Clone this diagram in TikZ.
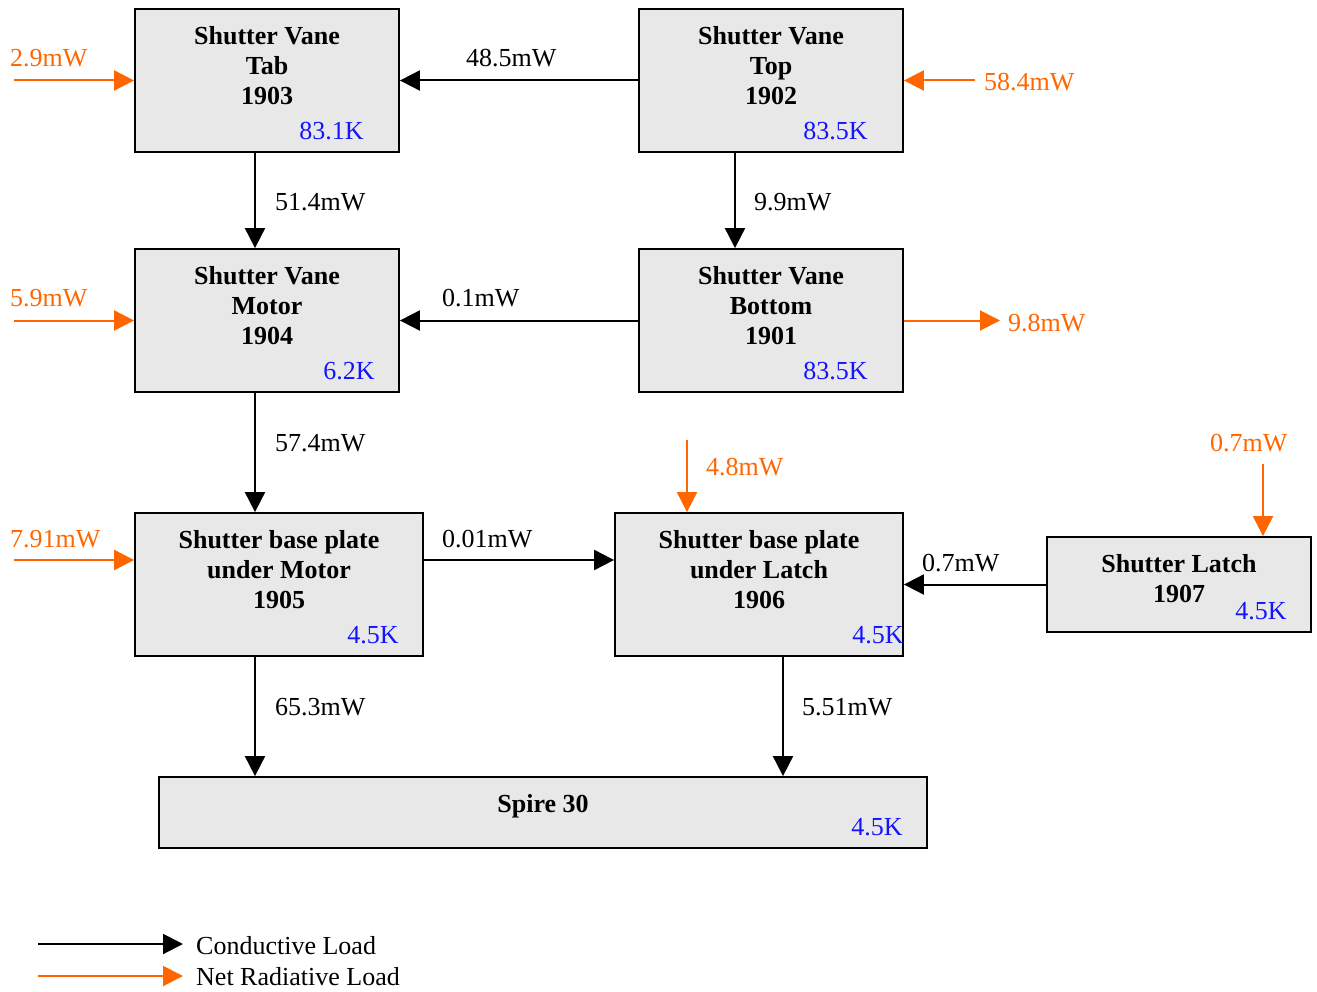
\documentclass[tikz,border=0pt]{standalone}
\usepackage{fontspec}
\setmainfont{Liberation Serif}
\usetikzlibrary{arrows.meta}
\definecolor{radorange}{RGB}{255,102,0}
\definecolor{tempblue}{RGB}{20,20,255}
\definecolor{boxgrey}{RGB}{232,232,232}
\tikzset{
  box/.style={draw=black, line width=1.8pt, fill=boxgrey, rectangle, inner sep=0pt},
  title/.style={anchor=base, inner sep=0pt, font=\fontsize{26}{30}\selectfont\bfseries},
  temp/.style={anchor=base east, inner sep=0pt, text=tempblue, font=\fontsize{26}{30}\selectfont},
  lbl/.style={anchor=base west, inner sep=0pt, font=\fontsize{26}{30}\selectfont},
  olbl/.style={lbl, text=radorange},
  cond/.style={draw=black, line width=2pt, -{Triangle[length=20pt,width=20pt]}},
  rad/.style={draw=radorange, line width=2pt, -{Triangle[length=20pt,width=20pt]}},
}
\newcommand{\ttl}[1]{\begin{tabular}[t]{@{}c@{}}#1\end{tabular}}
\begin{document}
\begin{tikzpicture}[x=1pt,y=-1pt]
\useasboundingbox (0,0) rectangle (1317,992);
% boxes
\node[box, minimum width=264pt, minimum height=143pt] (n1903) at (267,80.5) {};
\node[box, minimum width=264pt, minimum height=143pt] (n1902) at (771,80.5) {};
\node[box, minimum width=264pt, minimum height=143pt] (n1904) at (267,320.5) {};
\node[box, minimum width=264pt, minimum height=143pt] (n1901) at (771,320.5) {};
\node[box, minimum width=288pt, minimum height=143pt] (n1905) at (279,584.5) {};
\node[box, minimum width=288pt, minimum height=143pt] (n1906) at (759,584.5) {};
\node[box, minimum width=264pt, minimum height=95pt] (n1907) at (1179,584.5) {};
\node[box, minimum width=768pt, minimum height=71pt] (spire) at (543,812.5) {};
% titles
\node[title] (t1903) at ([yshift=-36pt]n1903.north) {\ttl{Shutter Vane\\Tab\\1903}};
\node[title] (t1902) at ([yshift=-36pt]n1902.north) {\ttl{Shutter Vane\\Top\\1902}};
\node[title] (t1904) at ([yshift=-36pt]n1904.north) {\ttl{Shutter Vane\\Motor\\1904}};
\node[title] (t1901) at ([yshift=-36pt]n1901.north) {\ttl{Shutter Vane\\Bottom\\1901}};
\node[title] (t1905) at ([yshift=-36pt]n1905.north) {\ttl{Shutter base plate\\under Motor\\1905}};
\node[title] (t1906) at ([yshift=-36pt]n1906.north) {\ttl{Shutter base plate\\under Latch\\1906}};
\node[title] (t1907) at ([yshift=-36pt]n1907.north) {\ttl{Shutter Latch\\1907}};
\node[title] (tspire) at ([yshift=-36pt]spire.north) {\ttl{Spire 30}};
% temperatures
\node[temp] (k1903) at ([xshift=-36pt,yshift=13pt]n1903.south east) {83.1K};
\node[temp] (k1902) at ([xshift=-36pt,yshift=13pt]n1902.south east) {83.5K};
\node[temp] (k1904) at ([xshift=-25pt,yshift=13pt]n1904.south east) {6.2K};
\node[temp] (k1901) at ([xshift=-36pt,yshift=13pt]n1901.south east) {83.5K};
\node[temp] (k1905) at ([xshift=-25pt,yshift=13pt]n1905.south east) {4.5K};
\node[temp] (k1906) at ([xshift=0pt,yshift=13pt]n1906.south east) {4.5K};
\node[temp] (k1907) at ([xshift=-25pt,yshift=13pt]n1907.south east) {4.5K};
\node[temp] (kspire) at ([xshift=-25pt,yshift=13pt]spire.south east) {4.5K};
% conductive connectors
\draw[cond] (n1902.west) -- (n1903.east);
\draw[cond] ([xshift=-12pt]n1903.south) -- ([xshift=-12pt]n1904.north);
\draw[cond] ([xshift=-36pt]n1902.south) -- ([xshift=-36pt]n1901.north);
\draw[cond] (n1901.west) -- (n1904.east);
\draw[cond] ([xshift=-12pt]n1904.south) -- ([xshift=-24pt]n1905.north);
\draw[cond] ([yshift=24.5pt]n1905.east) -- ([yshift=24.5pt]n1906.west);
\draw[cond] (n1907.west) -- (n1906.east);
\draw[cond] ([xshift=-24pt]n1905.south) -- ([xshift=-288pt]spire.north);
\draw[cond] ([xshift=24pt]n1906.south) -- ([xshift=240pt]spire.north);
% conductive labels
\node[lbl] (l1) at (466,67) {48.5mW};
\node[lbl] (l2) at (275,211) {51.4mW};
\node[lbl] (l3) at (754,211) {9.9mW};
\node[lbl] (l4) at (442,307) {0.1mW};
\node[lbl] (l5) at (275,451) {57.4mW};
\node[lbl] (l6) at (442,547) {0.01mW};
\node[lbl] (l7) at (922,571) {0.7mW};
\node[lbl] (l8) at (275,715) {65.3mW};
\node[lbl] (l9) at (802,715) {5.51mW};
% radiative connectors
\coordinate (r1) at (14,80.5);
\coordinate (r2) at (975,80.5);
\coordinate (r3) at (14,320.5);
\coordinate (r4) at (1000,320.5);
\coordinate (r5) at (14,560);
\coordinate (r6) at (687,440);
\coordinate (r7) at (1263,464);
\draw[rad] (r1) -- (n1903.west);
\draw[rad] (r2) -- (n1902.east);
\draw[rad] (r3) -- (n1904.west);
\draw[rad] (n1901.east) -- (r4);
\draw[rad] (r5) -- (r5 -| n1905.west);
\draw[rad] (r6) -- (r6 |- n1906.north);
\draw[rad] (r7) -- (r7 |- n1907.north);
% radiative labels
\node[olbl] (o1) at (10,67) {2.9mW};
\node[olbl] (o2) at (984,91) {58.4mW};
\node[olbl] (o3) at (10,307) {5.9mW};
\node[olbl] (o4) at (1008,331) {9.8mW};
\node[olbl] (o5) at (10,547) {7.91mW};
\node[olbl] (o6) at (706,475) {4.8mW};
\node[olbl] (o7) at (1210,451) {0.7mW};
% legend
\coordinate (la) at (38,944);
\coordinate (lb) at (183,944);
\coordinate (lc) at (38,976);
\coordinate (ld) at (183,976);
\draw[cond] (la) -- (lb);
\draw[rad] (lc) -- (ld);
\node[lbl] (leg1) at (196,954) {Conductive Load};
\node[lbl] (leg2) at (196,985) {Net Radiative Load};
\end{tikzpicture}
\end{document}
